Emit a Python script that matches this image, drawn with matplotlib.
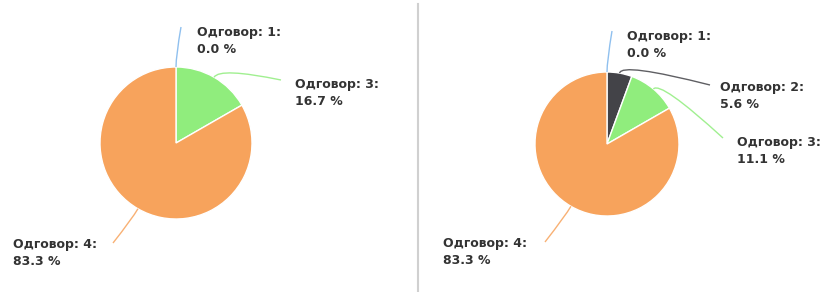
import numpy as np
import matplotlib.pyplot as plt
from matplotlib.path import Path
from matplotlib.patches import PathPatch
from matplotlib.lines import Line2D

# ---- data ----
left_categories = ['Одговор: 1', 'Одговор: 3', 'Одговор: 4']
left_values = [0.0, 16.7, 83.3]
right_categories = ['Одговор: 1', 'Одговор: 2', 'Одговор: 3', 'Одговор: 4']
right_values = [0.0, 5.6, 11.1, 83.3]
category_colors = {'Одговор: 1': '#7cb5ec', 'Одговор: 2': '#434348',
                   'Одговор: 3': '#90ed7d', 'Одговор: 4': '#f7a35c'}

# ---- layout (pixels) ----
W, H, DPI = 823, 292, 100
left_pie = dict(cx=176, cy=143, r=76)
right_pie = dict(cx=607, cy=144, r=72)
# text anchor (x, y-center of the label block, ha), connector end (x, y)
left_layout = {
    'Одговор: 1': ((197, 41), 'left', (181, 27)),
    'Одговор: 3': ((295, 93), 'left', (281, 80)),
    'Одговор: 4': ((13, 253), 'left', (113, 243)),
}
right_layout = {
    'Одговор: 1': ((627, 45), 'left', (612, 31)),
    'Одговор: 2': ((720, 96), 'left', (710, 85)),
    'Одговор: 3': ((737, 151), 'left', (723, 138)),
    'Одговор: 4': ((443, 252), 'left', (545, 242)),
}

fig = plt.figure(figsize=(W / DPI, H / DPI), dpi=DPI)
fig.patch.set_facecolor('white')


def draw(pie, cats, vals, layout):
    cx, cy, R = pie['cx'], pie['cy'], pie['r']
    ax = fig.add_axes([0, 0, 1, 1])
    cols = [category_colors[c] for c in cats]
    ax.pie(vals, colors=cols, startangle=90, counterclock=False, radius=1,
           wedgeprops=dict(edgecolor='white', linewidth=1))
    ax.set_xlim(-cx / R, (W - cx) / R)
    ax.set_ylim(-(H - cy) / R, cy / R)
    ax.axis('off')

    def to_data(px, py):
        return ((px - cx) / R, (cy - py) / R)

    total = sum(vals)
    cum = 0.0
    for c, v in zip(cats, vals):
        mid = np.deg2rad(90 - 360 * (cum + v / 2) / total)
        cum += v
        (tx, ty), ha, (ex, ey) = layout[c]
        d = np.array([np.cos(mid), np.sin(mid)])
        p0 = d * 1.0
        p1 = d * 1.15
        p2 = np.array(to_data(ex, ey))
        path = Path([p0, p1, p2], [Path.MOVETO, Path.CURVE3, Path.CURVE3])
        ax.add_patch(PathPatch(path, facecolor='none', edgecolor=category_colors[c],
                               lw=1.0, alpha=0.85, zorder=1))
        x, y = to_data(tx, ty)
        ax.text(x, y, f"{c}:\n{v:.1f} %", ha=ha, va='center', multialignment='left',
                fontsize=9, fontweight='bold', color='#333333', linespacing=1.45,
                family='DejaVu Sans')


draw(left_pie, left_categories, left_values, left_layout)
draw(right_pie, right_categories, right_values, right_layout)

fig.add_artist(Line2D([418 / W, 418 / W], [0, 1 - 4 / H], transform=fig.transFigure,
                      color='#d0d0d0', lw=1.5))

fig.savefig('out.png', dpi=DPI, facecolor='white')
